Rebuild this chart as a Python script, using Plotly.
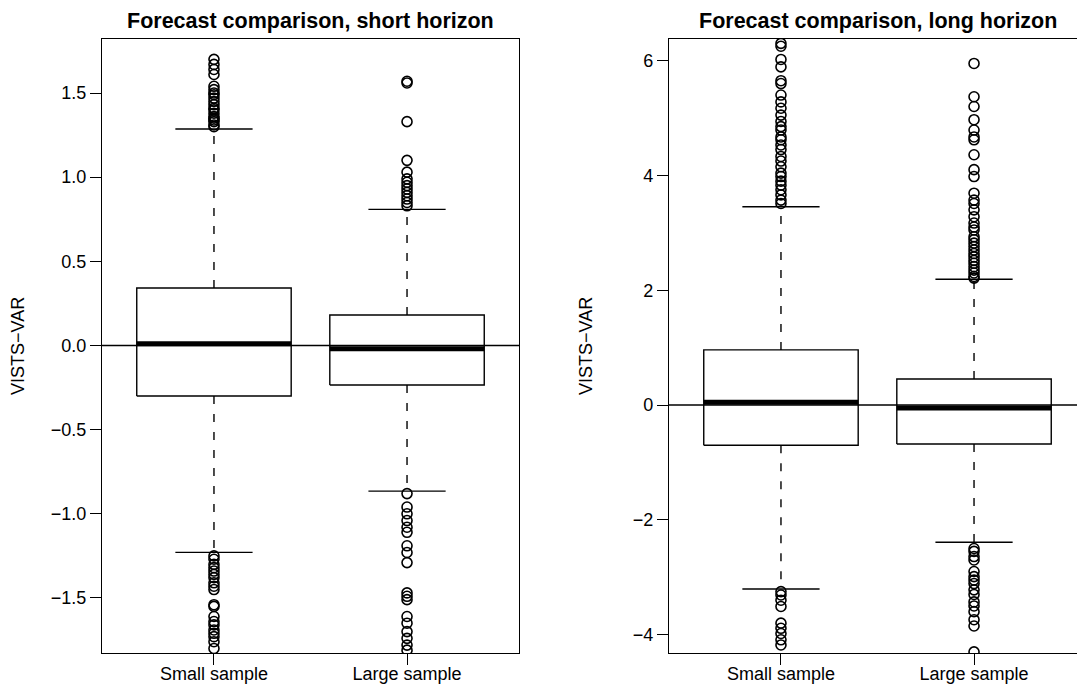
import plotly.graph_objects as go

categories = ["Small sample", "Large sample"]
positions = [1, 2]

# Short horizon box statistics
short_q1 = [-0.300, -0.235]
short_med = [0.010, -0.020]
short_q3 = [0.342, 0.181]
short_lo = [-1.229, -0.865]
short_hi = [1.286, 0.809]
short_out_small = [1.70, 1.67, 1.64, 1.61, 1.54, 1.52, 1.50, 1.49, 1.47, 1.45, 1.43, 1.41, 1.40,
                   1.38, 1.36, 1.35, 1.34, 1.33, 1.31, 1.30,
                   -1.25, -1.27, -1.30, -1.32, -1.34, -1.36, -1.38, -1.41, -1.43, -1.45, -1.54,
                   -1.55, -1.61, -1.64, -1.66, -1.69, -1.71, -1.73, -1.76, -1.80]
short_out_large = [1.57, 1.56, 1.33, 1.10, 1.03, 0.99, 0.97, 0.95, 0.93, 0.91, 0.89, 0.87, 0.85, 0.83,
                   -0.88, -0.96, -1.00, -1.04, -1.08, -1.11, -1.19, -1.23, -1.29, -1.47, -1.49,
                   -1.51, -1.61, -1.65, -1.70, -1.74, -1.78, -1.81]

# Long horizon box statistics
long_q1 = [-0.700, -0.680]
long_med = [0.050, -0.050]
long_q3 = [0.960, 0.453]
long_lo = [-3.206, -2.390]
long_hi = [3.455, 2.190]
long_out_small = [6.30, 6.25, 6.02, 5.89, 5.65, 5.60, 5.40, 5.28, 5.17, 5.05, 4.94, 4.85, 4.79, 4.67,
                  4.62, 4.53, 4.45, 4.33, 4.25, 4.15, 4.04, 3.98, 3.90, 3.83, 3.75, 3.66, 3.57, 3.51,
                  -3.25, -3.31, -3.40, -3.51, -3.80, -3.89, -3.98, -4.09, -4.18]
long_out_large = [5.95, 5.37, 5.20, 4.97, 4.79, 4.67, 4.62, 4.36, 4.10, 3.98, 3.69, 3.57, 3.51, 3.40,
                  3.28, 3.17, 3.10, 3.05, 2.93, 2.88, 2.82, 2.76, 2.70, 2.64, 2.58, 2.52, 2.47,
                  2.41, 2.35, 2.30, 2.24, 2.21,
                  -2.50, -2.55, -2.64, -2.70, -2.90, -2.99, -3.05, -3.11, -3.22, -3.30, -3.43,
                  -3.50, -3.60, -3.74, -3.85, -4.30]

yticks_short = [-1.5, -1.0, -0.5, 0.0, 0.5, 1.0, 1.5]
yticks_long = [-4, -2, 0, 2, 4, 6]
panel_titles = ["Forecast comparison, short horizon", "Forecast comparison, long horizon"]
y_title = "VISTS\u2212VAR"

FONT = "Liberation Sans, Arial, Helvetica, sans-serif"
BOXW = 0.4   # half box width
STAPW = 0.2  # half staple width
LW = 1.4

W, H = 1077, 698
plot_top, plot_bot = 39, 653
ydom = [(H - plot_bot) / H, (H - plot_top) / H]

fig = go.Figure()


def add_panel(xa, ya, q1, med, q3, lo, hi, outs):
    for i, p in enumerate(positions):
        # box rectangle
        fig.add_trace(go.Scatter(
            x=[p - BOXW, p + BOXW, p + BOXW, p - BOXW, p - BOXW],
            y=[q1[i], q1[i], q3[i], q3[i], q1[i]],
            mode="lines", line=dict(color="black", width=LW),
            xaxis=xa, yaxis=ya, showlegend=False, hoverinfo="skip"))
        # whiskers (dashed)
        for a, b in [(q3[i], hi[i]), (q1[i], lo[i])]:
            fig.add_trace(go.Scatter(
                x=[p, p], y=[a, b], mode="lines",
                line=dict(color="black", width=LW, dash="8px,10px"),
                xaxis=xa, yaxis=ya, showlegend=False, hoverinfo="skip"))
        # staples
        for v in [hi[i], lo[i]]:
            fig.add_trace(go.Scatter(
                x=[p - STAPW, p + STAPW], y=[v, v], mode="lines",
                line=dict(color="black", width=LW),
                xaxis=xa, yaxis=ya, showlegend=False, hoverinfo="skip"))
        # median
        fig.add_trace(go.Scatter(
            x=[p - BOXW, p + BOXW], y=[med[i], med[i]], mode="lines",
            line=dict(color="black", width=5),
            xaxis=xa, yaxis=ya, showlegend=False, hoverinfo="skip"))
        # outliers
        fig.add_trace(go.Scatter(
            x=[p] * len(outs[i]), y=outs[i], mode="markers",
            marker=dict(symbol="circle-open", size=10, color="black",
                        line=dict(width=1.6, color="black")),
            xaxis=xa, yaxis=ya, showlegend=False, name=categories[i]))


add_panel("x", "y", short_q1, short_med, short_q3, short_lo, short_hi,
          [short_out_small, short_out_large])
add_panel("x2", "y2", long_q1, long_med, long_q3, long_lo, long_hi,
          [long_out_small, long_out_large])

# horizontal reference lines at zero
for xr, yr in [("x domain", "y"), ("x2 domain", "y2")]:
    fig.add_shape(type="line", xref=xr, yref=yr, x0=0, x1=1, y0=0, y1=0,
                  line=dict(color="black", width=LW), layer="below")

left_px = (102, 519)
right_px = (669, 1086)
px_per_unit = (left_px[1] - left_px[0]) / 2.16
right_range_max = 0.42 + (W - right_px[0]) / px_per_unit


def fmt(v, dec):
    s = f"{v:.{dec}f}"
    return s.replace("-", "\u2212")


tick_font = dict(family=FONT, size=18, color="black")
common_x = dict(tickmode="array", tickvals=positions, ticktext=categories,
                ticks="outside", ticklen=11, tickwidth=LW, tickcolor="black",
                showline=True, linecolor="black", linewidth=LW, mirror=True,
                showgrid=False, zeroline=False, tickfont=tick_font, ticklabelstandoff=-7)
common_y = dict(tickmode="array", ticks="outside", ticklen=11, tickwidth=LW, tickcolor="black",
                showline=True, linecolor="black", linewidth=LW,
                showgrid=False, zeroline=False, tickfont=tick_font)
fig.update_layout(
    width=W, height=H, margin=dict(l=0, r=0, t=0, b=0),
    paper_bgcolor="white", plot_bgcolor="white",
    xaxis=dict(domain=[left_px[0] / W, left_px[1] / W], range=[0.42, 2.58], anchor="y", **common_x),
    xaxis2=dict(domain=[right_px[0] / W, 1.0], range=[0.42, right_range_max], anchor="y2", **common_x),
    yaxis=dict(domain=ydom, range=[-1.827, 1.821], anchor="x", mirror=True,
               tickvals=yticks_short, ticktext=[fmt(v, 1) for v in yticks_short], **common_y),
    yaxis2=dict(domain=ydom, range=[-4.32, 6.376], anchor="x2", mirror=False,
                tickvals=yticks_long, ticktext=[fmt(v, 0) for v in yticks_long], **common_y),
)

title_font = dict(family=FONT, size=21.5, color="black")
fig.add_annotation(text="<b>" + panel_titles[0] + "</b>", x=(left_px[0] + left_px[1]) / 2 / W, y=1 - 21 / H,
                   xref="paper", yref="paper", showarrow=False, font=title_font,
                   xanchor="center", yanchor="middle")
fig.add_annotation(text="<b>" + panel_titles[1] + "</b>", x=(right_px[0] + right_px[1]) / 2 / W, y=1 - 21 / H,
                   xref="paper", yref="paper", showarrow=False, font=title_font,
                   xanchor="center", yanchor="middle")
ymid = 1 - ((plot_top + plot_bot) / 2) / H
for xp in [18, 586]:
    fig.add_annotation(text=y_title, x=xp / W, y=ymid, xref="paper", yref="paper",
                       showarrow=False, textangle=-90, font=dict(family=FONT, size=18, color="black"),
                       xanchor="center", yanchor="middle")

fig.write_html("out.html", config={"displayModeBar": False},
               post_script="document.body.style.margin='0';document.body.style.overflow='hidden';")
